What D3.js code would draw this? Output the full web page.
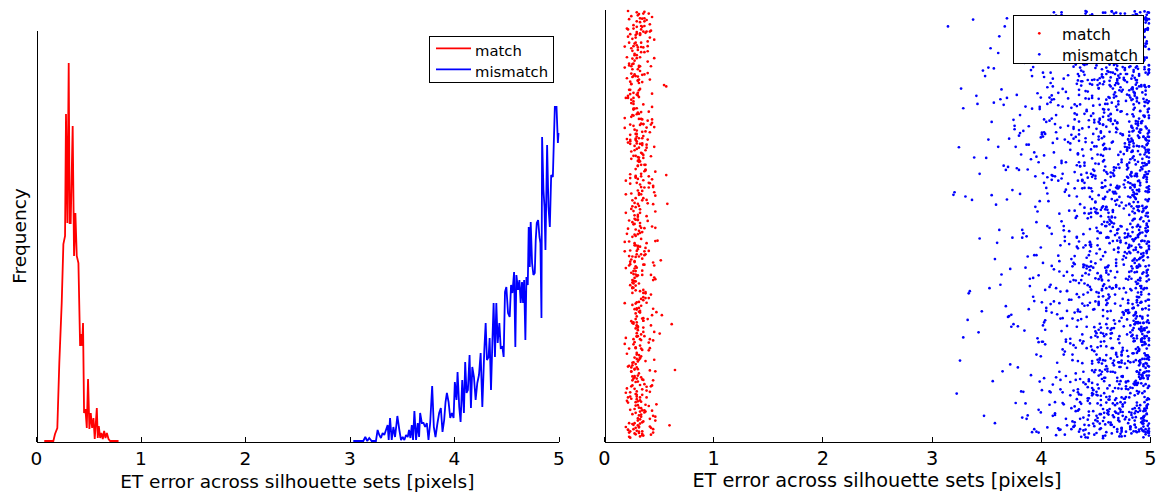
<!DOCTYPE html>
<html><head><meta charset="utf-8">
<script src="https://cdn.jsdelivr.net/npm/d3@7"></script>
<style>
html,body{margin:0;padding:0;background:#fff;}
svg{display:block;}
text{font-family:"DejaVu Sans",sans-serif;fill:#000;}
</style></head><body>
<svg id="chart" width="1162" height="492"></svg>
<script>
// ---- Histogram of ET error (bin centre in pixels, frequency) ----
const matchBins = [0.079,0.166,0.182,0.204,0.223,0.246,0.262,0.278,0.287,0.300,0.313,0.322,0.332,0.351,0.364,0.377,0.390,0.406,0.422,0.431,0.441,0.450,0.460,0.473,0.486,0.498,0.511,0.524,0.537,0.550,0.562,0.582,0.591,0.601,0.614,0.626,0.639,0.652,0.665,0.678,0.694,0.710,0.790];
const matchFreq = [0,0,7,13,78,138,197,205,327,218,378,218,218,315,185,228,185,178,95,107,95,118,28,32,13,62,12,28,13,23,2,33,3,15,3,8,2,10,3,8,2,0,0];

const mismatchBins = [3.036,3.132,3.151,3.170,3.189,3.212,3.253,3.269,3.285,3.301,
3.317,3.333,3.349,3.365,3.375,3.388,3.404,3.420,3.436,3.458,
3.477,3.493,3.509,3.525,3.541,3.557,3.570,3.583,3.596,3.608,
3.621,3.637,3.653,3.666,3.676,3.692,3.708,3.724,3.740,3.756,
3.772,3.791,3.807,3.823,3.842,3.858,3.874,3.890,3.906,3.919,
3.932,3.948,3.964,3.980,3.996,4.008,4.024,4.034,4.050,4.063,
4.079,4.095,4.107,4.120,4.133,4.149,4.162,4.175,4.191,4.207,
4.223,4.239,4.255,4.271,4.290,4.303,4.315,4.331,4.341,4.354,
4.367,4.379,4.392,4.405,4.418,4.434,4.447,4.463,4.475,4.488,
4.501,4.517,4.533,4.546,4.559,4.575,4.587,4.597,4.613,4.626,
4.638,4.651,4.661,4.671,4.683,4.693,4.706,4.715,4.725,4.734,
4.747,4.760,4.773,4.782,4.792,4.805,4.818,4.827,4.837,4.843,
4.856,4.866,4.875,4.891,4.904,4.917,4.930,4.946,4.955,4.965,
4.981,4.994,5.000];
const mismatchFreq = [0,0,4,0,3,0,0,11,6,3,
8,6,11,16,1,23,1,14,4,25,
11,1,4,1,6,4,11,3,16,1,
30,1,18,4,28,18,18,14,18,1,
18,55,14,4,18,28,33,9,21,39,
48,39,23,28,23,59,41,69,34,19,
61,28,79,48,51,86,33,74,64,41,
58,66,88,34,91,118,81,84,103,51,
98,138,84,138,98,118,93,94,84,149,
154,128,124,156,148,169,94,166,151,161,
138,159,138,161,101,164,156,214,174,219,
178,166,168,201,218,221,204,198,123,304,
251,234,191,296,234,214,266,264,298,334,
334,298,308];

// ---- Per-sample ET error (pixels) ----
const matchErr = [
0.29,0.34,0.26,0.31,0.38,0.23,0.33,0.28,0.41,0.30,0.25,0.36,0.32,0.27,0.44,0.30,0.35,0.24,0.29,0.33,
0.31,0.27,0.39,0.22,0.34,0.30,0.48,0.26,0.32,0.37,0.29,0.24,0.33,0.55,0.28,0.35,0.31,0.25,0.40,0.30,
0.26,0.33,0.29,0.36,0.23,0.31,0.42,0.28,0.34,0.30,0.27,0.38,0.62,0.25,0.32,0.29,0.35,0.24,0.31,0.37,
0.30,0.25,0.34,0.28,0.39,0.32,0.27,0.45,0.22,0.33,0.29,0.36,0.31,0.26,0.34,0.28,0.51,0.30,0.35,0.24,
0.33,0.29,0.26,0.37,0.31,0.24,0.35,0.30,0.28,0.43,0.32,0.27,0.36,0.23,0.31,0.34,0.29,0.39,0.26,0.32,
0.28,0.35,0.31,0.25,0.40,0.29,0.33,0.22,0.37,0.30,0.27,0.34,0.47,0.29,0.32,0.26,0.36,0.31,0.24,0.33,
0.35,0.30,0.27,0.32,0.38,0.25,0.29,0.34,0.31,0.58,0.26,0.33,0.30,0.41,0.28,0.35,0.23,0.31,0.29,0.36,
0.27,0.32,0.30,0.36,0.24,0.33,0.29,0.39,0.26,0.31,0.35,0.28,0.42,0.30,0.25,0.34,0.32,0.27,0.37,0.29,
0.31,0.26,0.34,0.29,0.65,0.32,0.28,0.36,0.23,0.33,0.30,0.38,0.27,0.31,0.35,0.25,0.44,0.29,0.32,0.28,
0.34,0.30,0.25,0.37,0.31,0.28,0.33,0.22,0.36,0.29,0.32,0.40,0.26,0.34,0.30,0.53,0.27,0.31,0.35,0.24,
0.29,0.36,0.32,0.27,0.33,0.30,0.25,0.39,0.31,0.28,0.34,0.23,0.37,0.30,0.26,0.32,0.46,0.29,0.33,0.31,
0.26,0.31,0.35,0.28,0.32,0.24,0.38,0.30,0.33,0.27,0.36,0.29,0.31,0.42,0.25,0.34,0.28,0.32,0.57,0.30,
0.33,0.27,0.30,0.36,0.22,0.31,0.29,0.35,0.26,0.40,0.32,0.28,0.34,0.30,0.25,0.37,0.31,0.27,0.33,0.29,
0.30,0.35,0.24,0.32,0.28,0.38,0.31,0.26,0.34,0.29,0.49,0.33,0.27,0.36,0.30,0.23,0.32,0.28,0.41,0.31,
0.27,0.33,0.30,0.25,0.36,0.29,0.32,0.39,0.28,0.34,0.31,0.24,0.35,0.30,0.27,0.33,0.60,0.29,0.26,0.37,
0.32,0.28,0.35,0.30,0.26,0.33,0.43,0.29,0.31,0.24,0.37,0.28,0.34,0.30,0.32,0.25,0.36,0.29,0.33,0.27,
0.29,0.34,0.31,0.23,0.38,0.30,0.27,0.33,0.35,0.28,0.32,0.26,0.40,0.30,0.34,0.29,0.52,0.31,0.25,0.36,
0.31,0.27,0.33,0.29,0.36,0.24,0.32,0.30,0.28,0.35,0.38,0.26,0.31,0.33,0.29,0.45,0.27,0.34,0.30,0.32,
0.25,0.34,0.30,0.37,0.28,0.32,0.29,0.35,0.23,0.31,0.33,0.27,0.39,0.30,0.26,0.36,0.31,0.28,0.34,0.57,
0.30,0.26,0.33,0.29,0.31,0.37,0.24,0.35,0.28,0.32,0.30,0.42,0.27,0.34,0.29,0.31,0.25,0.36,0.33,0.28,
0.32,0.29,0.35,0.27,0.30,0.38,0.33,0.26,0.31,0.48,0.28,0.34,0.30,0.24,0.36,0.31,0.29,0.33,0.27,0.35,
0.21,0.43,0.35,0.19,0.46,0.28,0.39,0.24,0.44,0.32,0.20,0.41,0.37,0.26,0.45,0.30,0.22,0.42,0.34,0.47,
0.40,0.23,0.45,0.33,0.20,0.38,0.27,0.44,0.21,0.36,0.43,0.25,0.47,0.31,0.19,0.42,0.29,0.46,0.24,0.39,
0.26,0.44,0.21,0.41,0.34,0.46,0.20,0.37,0.43,0.23,0.40,0.28,0.45,0.19,0.35,0.42,0.22,0.47,0.31,0.38,
0.43,0.20,0.39,0.25,0.47,0.32,0.22,0.45,0.36,0.19,0.42,0.30,0.44,0.24,0.41,0.27,0.46,0.21,0.37,0.33,
0.22,0.46,0.30,0.42,0.19,0.38,0.44,0.26,0.40,0.21,0.47,0.34,0.23,0.43,0.29,0.45,0.20,0.36,0.41,0.25,
0.44,0.27,0.20,0.45,0.35,0.23,0.41,0.19,0.47,0.31,0.39,0.22,0.43,0.28,0.46,0.21,0.38,0.42,0.24,0.36,
0.19,0.40,0.46,0.29,0.43,0.21,0.37,0.45,0.24,0.42,0.33,0.47,0.20,0.39,0.26,0.44,0.22,0.41,0.30,0.45,
0.42,0.24,0.38,0.47,0.21,0.44,0.28,0.19,0.41,0.35,0.46,0.23,0.40,0.20,0.43,0.32,0.45,0.25,0.37,0.22];

// vertical position of each match sample (0 = bottom, 999 = top)
const matchPos = [
512,87,934,263,718,405,46,851,329,677,158,993,574,221,806,439,12,695,368,947,
134,782,457,21,619,889,296,543,73,964,347,710,188,826,502,9,658,275,917,431,
863,64,392,735,211,580,951,117,467,804,33,629,268,912,486,175,746,359,88,997,
305,671,144,883,520,27,769,412,956,190,614,341,837,58,493,722,246,975,383,109,
648,925,172,438,761,3,557,286,899,123,702,369,41,815,254,588,937,97,472,680,
226,850,519,94,743,316,973,169,625,400,788,52,531,258,868,146,707,443,18,594,
981,197,363,657,80,829,474,231,908,549,125,689,302,764,37,421,876,163,610,348,
755,14,598,282,945,449,105,727,371,836,67,514,233,962,388,640,153,796,492,280,
43,888,311,701,161,570,923,250,461,817,99,674,392,989,208,537,746,26,652,415,
571,240,784,128,863,477,6,939,331,612,185,881,426,72,720,289,958,549,139,805,
358,663,29,917,504,239,792,113,449,674,956,15,587,319,845,196,728,403,97,638,
906,148,483,771,55,609,340,896,218,532,781,384,79,968,167,668,452,17,823,272,
126,731,264,562,999,181,425,690,35,854,306,522,915,141,752,62,607,353,870,489,
690,39,815,363,147,948,523,271,736,11,463,891,233,604,103,980,320,684,439,761,
272,943,111,654,407,86,798,558,190,925,382,68,717,265,847,497,32,630,178,975,
839,398,702,19,557,233,870,133,451,698,982,303,57,772,426,157,914,541,295,661,
61,613,240,925,343,758,501,90,666,376,814,137,550,996,211,698,417,48,853,324,
478,179,859,562,8,734,297,950,413,116,640,875,260,481,712,23,385,903,167,544,
987,327,93,640,457,871,214,579,37,802,345,966,122,695,506,276,808,70,431,616,
201,756,528,293,914,67,440,686,164,992,380,597,23,747,212,846,573,138,733,368,
747,452,18,808,187,627,944,365,511,81,896,244,706,414,951,32,661,299,876,103,
479,26,833,317,682,144,951,408,66,759,236,587,903,352,15,712,491,839,193,624,
905,171,548,36,796,431,269,985,118,656,337,870,52,512,726,212,943,377,99,687,
313,738,89,613,964,250,528,851,10,427,699,162,588,916,281,47,801,373,649,182,
660,399,978,123,568,831,22,304,735,460,110,946,289,618,77,771,405,891,240,536,
85,889,247,716,438,64,606,354,928,199,493,763,5,383,847,137,571,276,993,419,
775,141,603,371,962,510,225,867,43,637,318,97,734,551,185,958,446,29,689,260,
222,509,932,78,265,700,407,591,834,160,982,462,28,680,341,125,796,598,919,54,
937,596,329,158,842,496,13,749,207,393,576,872,280,108,953,647,230,828,429,692];

const mismatchErr = [
4.87,4.52,4.13,4.96,4.61,3.74,4.33,4.78,4.91,4.05,4.66,4.28,4.99,4.57,3.41,4.44,4.83,4.70,4.21,4.94,
4.62,4.95,4.38,4.11,4.81,4.73,3.88,4.49,4.97,4.26,4.55,4.02,4.89,4.68,4.17,4.92,3.63,4.59,4.35,4.76,
4.93,4.47,4.71,3.25,4.84,4.19,4.56,4.98,4.31,4.64,3.95,4.88,4.42,4.75,4.08,4.53,4.90,3.79,4.67,4.23,
4.79,4.36,4.94,4.58,4.03,4.86,4.69,3.57,4.27,4.97,4.51,4.14,4.82,4.63,4.45,3.92,4.74,4.89,4.40,4.60,
4.54,4.91,4.22,4.77,3.83,4.65,4.99,4.10,4.46,4.85,3.48,4.72,4.30,4.59,4.93,4.06,4.68,4.37,4.81,4.50,
4.96,4.43,4.70,4.16,4.88,4.55,3.69,4.34,4.92,4.62,4.00,4.80,4.48,4.74,4.25,4.97,3.98,4.58,4.86,4.66,
4.61,4.83,4.29,4.95,4.09,4.71,4.50,3.61,4.89,4.39,4.76,4.18,4.98,4.56,3.15,4.64,4.84,4.44,4.90,4.04,
4.73,4.40,4.97,4.57,4.12,4.85,4.67,3.86,4.32,4.91,4.53,4.01,4.79,4.47,4.94,4.20,4.63,3.72,4.87,4.69,
4.88,4.51,4.24,4.75,3.96,4.93,4.60,4.35,4.82,3.37,4.68,4.15,4.99,4.46,4.72,4.07,4.86,3.81,4.57,4.95,
4.45,4.90,4.66,4.19,4.81,4.54,3.90,4.98,4.28,4.74,4.03,4.62,4.87,3.66,4.41,4.94,4.59,4.13,4.78,4.84,
4.97,4.58,4.33,4.86,4.11,4.70,4.49,3.53,4.92,4.64,4.23,4.80,3.99,4.55,4.89,4.37,4.96,4.06,4.73,3.29,
4.63,4.85,4.42,4.95,4.17,4.69,4.52,3.77,4.91,4.27,4.76,4.08,4.60,4.99,4.38,4.83,3.94,4.48,4.88,4.71,
4.82,4.47,4.93,4.21,4.67,4.56,3.85,4.98,4.31,4.74,4.02,4.89,4.61,4.14,4.84,3.58,4.44,4.95,4.65,4.53,
4.90,4.36,4.77,4.10,4.59,4.97,4.25,4.68,3.93,4.86,4.50,3.71,4.81,4.43,4.94,4.16,4.72,3.44,4.63,4.87,
4.55,4.92,4.30,4.84,4.05,4.73,4.61,3.89,4.96,4.40,4.79,4.19,4.66,4.88,4.34,4.99,3.97,4.57,4.83,4.70,
4.76,4.49,4.95,4.12,4.85,4.62,3.64,4.39,4.91,4.54,4.00,4.78,4.27,4.97,4.68,4.22,4.86,3.82,4.58,4.93,
4.69,4.88,4.35,4.98,4.18,4.74,4.51,3.75,4.83,4.46,4.94,4.07,4.64,4.90,4.29,3.20,4.80,4.60,4.96,4.41,
4.84,4.57,4.24,4.92,3.95,4.71,4.87,4.32,4.65,4.99,4.13,4.53,3.68,4.79,4.45,4.89,4.03,4.67,4.95,4.38,
4.60,4.93,4.47,4.81,4.09,4.72,4.97,3.87,4.36,4.85,4.55,4.20,4.90,4.63,3.55,4.76,4.42,4.98,4.16,4.70,
4.89,4.44,4.75,4.15,4.96,4.58,3.92,4.83,4.31,4.66,4.99,4.04,4.52,4.87,4.26,3.39,4.73,4.94,4.61,4.48,
4.71,4.97,4.39,4.86,4.21,4.64,4.53,3.80,4.92,4.34,4.78,4.10,4.88,4.57,4.98,3.96,4.45,4.82,4.67,4.25,
4.95,4.50,4.82,4.06,4.69,4.90,4.37,3.62,4.77,4.59,4.99,4.18,4.85,4.43,4.64,3.91,4.93,4.28,4.74,4.56,
4.80,4.63,4.27,4.97,4.14,4.71,4.88,3.73,4.46,4.94,4.55,4.01,4.83,4.66,3.47,4.90,4.33,4.77,4.98,4.60,
4.58,4.91,4.42,4.86,3.98,4.75,4.96,4.23,4.62,4.84,4.11,4.52,3.84,4.89,4.36,4.99,4.68,4.17,4.79,4.93,
4.74,4.47,4.95,4.19,4.87,4.56,3.67,4.81,4.30,4.92,4.65,4.08,4.98,4.41,4.72,3.94,4.85,4.61,4.26,4.90,
4.97,4.54,4.33,4.83,4.02,4.68,4.91,3.78,4.49,4.86,4.59,4.15,4.94,4.76,3.31,4.62,4.40,4.88,4.99,4.22,
4.65,4.89,4.44,4.96,4.12,4.73,4.57,3.88,4.82,4.35,4.93,4.05,4.70,4.98,4.28,4.84,3.59,4.51,4.90,4.67,
4.85,4.60,4.24,4.94,3.99,4.78,4.87,4.38,4.53,4.97,4.16,4.69,3.70,4.83,4.46,4.91,4.09,4.64,4.99,4.32,
4.52,4.92,4.48,4.80,4.03,4.66,4.96,3.83,4.39,4.88,4.57,4.20,4.93,4.74,3.52,4.61,4.43,4.98,4.14,4.86,
4.90,4.37,4.72,4.10,4.95,4.55,3.93,4.84,4.29,4.63,4.99,4.01,4.50,4.89,4.23,3.23,4.77,4.94,4.68,4.45,
4.77,4.96,4.41,4.85,4.17,4.62,4.54,3.76,4.91,4.33,4.79,4.07,4.87,4.58,4.98,3.97,4.46,4.82,4.70,4.26,
4.93,4.51,4.84,4.04,4.67,4.90,4.36,3.65,4.75,4.60,4.97,4.19,4.86,4.42,4.64,3.90,4.95,4.30,4.73,4.57,
4.81,4.64,4.25,4.98,4.13,4.70,4.89,3.72,4.47,4.92,4.56,4.00,4.83,4.68,3.43,4.91,4.34,4.76,4.97,4.59,
4.61,4.94,4.40,4.87,3.95,4.74,4.99,4.22,4.63,4.85,4.12,4.53,3.86,4.90,4.35,4.96,4.69,4.18,4.80,4.92,
4.73,4.48,4.96,4.20,4.88,4.55,3.69,4.82,4.31,4.93,4.66,4.06,4.97,4.44,4.71,3.98,4.86,4.60,4.27,4.89,
4.98,4.53,4.32,4.84,4.03,4.67,4.90,3.79,4.50,4.87,4.58,4.14,4.95,4.75,3.34,4.63,4.41,4.88,4.99,4.21,
4.66,4.88,4.45,4.95,4.11,4.72,4.56,3.89,4.83,4.36,4.92,4.04,4.69,4.97,4.29,4.85,3.56,4.52,4.91,4.65,
4.86,4.61,4.23,4.93,3.96,4.79,4.88,4.37,4.54,4.98,4.15,4.70,3.74,4.84,4.47,4.90,4.08,4.62,4.96,4.33,
4.53,4.91,4.49,4.81,4.02,4.67,4.97,3.84,4.38,4.89,4.56,4.19,4.94,4.73,3.50,4.60,4.44,4.99,4.13,4.85,
4.91,4.38,4.71,4.09,4.96,4.54,3.91,4.85,4.28,4.64,4.98,4.02,4.51,4.88,4.24,3.27,4.76,4.93,4.67,4.46,
4.36,4.79,3.58,4.92,4.61,4.98,4.14,4.70,4.85,4.25,4.55,4.90,4.07,4.44,4.83,4.66,3.81,4.97,4.52,4.31,
3.44,4.88,4.57,4.20,4.95,4.73,4.40,4.62,4.99,4.11,4.84,4.50,3.95,4.77,4.29,4.91,4.68,4.03,3.70,4.86,
4.94,4.16,4.63,4.81,4.47,3.87,4.97,4.58,4.32,4.89,4.72,4.05,4.54,4.93,4.22,4.80,4.65,3.99,4.87,4.42,
4.71,4.90,4.35,3.62,4.83,4.56,4.96,4.10,4.67,4.48,4.99,4.27,4.78,4.01,4.86,4.59,3.33,4.92,4.43,4.64,
4.58,3.92,4.85,4.69,4.24,4.97,4.51,4.80,4.13,4.91,4.37,4.75,3.78,4.62,4.98,4.45,4.06,4.88,4.55,4.94,
4.87,4.41,4.74,4.99,4.19,4.60,4.93,3.54,4.30,4.82,4.66,4.08,4.95,4.52,4.89,4.23,3.97,4.71,4.84,4.57,
4.64,4.96,4.28,4.87,4.53,4.02,4.78,4.92,4.46,3.66,4.70,4.98,4.15,4.59,4.84,4.34,4.90,3.88,4.61,4.76,
4.93,4.50,4.17,4.81,4.67,4.97,4.39,3.21,4.86,4.56,4.09,4.74,4.91,4.26,4.63,4.99,3.83,4.48,4.82,4.69,
4.77,4.33,4.95,4.60,3.94,4.88,4.47,4.72,4.12,4.98,4.55,4.85,4.21,3.61,4.69,4.92,4.42,4.04,4.80,4.57,
4.52,4.89,4.67,4.25,4.96,3.76,4.61,4.84,4.36,4.99,4.11,4.73,4.58,4.93,3.98,4.45,4.86,4.18,3.49,4.79,
4.85,4.62,4.03,4.94,4.48,4.78,4.31,4.91,3.85,4.57,4.97,4.20,4.70,4.88,4.43,4.65,3.68,4.99,4.14,4.54,
4.69,4.98,4.40,4.82,4.10,4.59,4.87,4.27,4.75,3.91,4.95,4.51,4.64,4.06,4.90,3.38,4.83,4.34,4.72,4.96,
4.91,4.46,4.79,3.57,4.63,4.97,4.22,4.86,4.55,4.00,4.73,4.93,4.38,4.68,3.96,4.84,4.60,4.99,4.16,4.50,
4.57,4.84,4.29,4.95,4.70,4.13,4.89,3.73,4.49,4.98,4.62,4.35,4.81,4.07,4.92,4.53,4.76,3.89,4.44,4.87,
4.95,4.60,3.81,4.74,4.23,4.88,4.54,4.99,4.09,4.67,4.85,4.41,3.26,4.93,4.57,4.18,4.80,4.65,4.97,4.32,
4.73,4.44,4.90,4.15,4.82,4.96,4.58,3.93,4.36,4.69,4.98,4.05,4.87,4.52,3.64,4.77,4.28,4.91,4.61,4.84,
4.48,4.92,4.66,4.01,4.79,4.55,4.97,4.30,3.86,4.88,4.63,4.19,4.94,4.72,4.39,4.99,4.10,4.56,3.52,4.83,
4.86,4.34,4.71,4.98,4.56,4.21,4.90,3.77,4.64,4.83,4.47,4.96,4.08,4.75,4.60,3.99,4.88,4.43,4.93,4.68,
4.62,4.95,4.25,4.80,3.90,4.69,4.99,4.51,4.12,4.87,4.38,4.74,4.92,4.58,3.46,4.82,4.03,4.66,4.97,4.45,
4.89,4.53,4.78,4.17,4.94,4.61,3.69,4.85,4.32,4.98,4.70,4.06,4.57,4.90,4.26,4.81,3.94,4.49,4.67,4.96,
4.75,4.42,4.97,4.63,4.11,4.88,4.54,3.80,4.92,4.29,4.72,4.99,4.02,4.60,4.84,4.47,3.63,4.79,4.93,4.37,
4.97,4.58,4.20,4.86,4.68,3.97,4.91,4.45,4.77,4.14,4.95,4.53,4.33,3.29,4.82,4.64,4.99,4.07,4.71,4.89,
4.55,4.83,4.39,4.96,3.84,4.70,4.61,4.92,4.24,4.87,4.50,4.98,4.04,4.66,3.71,4.80,4.43,4.94,4.18,4.74,
4.82,4.47,4.99,4.27,4.63,4.90,3.91,4.56,4.85,4.12,4.76,4.95,4.35,4.69,3.55,4.88,4.59,4.00,4.97,4.52,
4.68,4.94,4.31,4.78,4.09,4.87,4.60,4.98,3.75,4.45,4.92,4.57,4.22,4.83,4.73,3.96,4.99,4.40,4.65,4.90,
4.91,4.36,4.84,4.62,4.97,4.15,4.53,3.42,4.89,4.74,4.28,4.95,4.05,4.67,4.81,4.49,3.87,4.93,4.58,4.78,
4.59,4.88,4.72,4.19,4.96,4.44,3.98,4.80,4.63,4.99,4.34,4.86,3.60,4.55,4.91,4.10,4.70,4.97,4.26,4.84,
4.94,4.51,4.30,4.87,4.67,4.01,4.79,4.98,3.82,4.41,4.92,4.60,4.16,4.85,4.73,3.35,4.96,4.48,4.89,4.64,
4.83,4.41,4.97,4.66,4.52,4.91,4.35,4.78,4.99,4.60,4.88,4.47,4.72,4.94,4.31,4.85,4.57,4.96,4.69,4.80,
4.62,4.93,4.38,4.81,4.98,4.54,4.74,4.89,4.44,4.67,4.95,4.33,4.86,4.59,4.77,4.99,4.49,4.71,4.90,4.82,
4.97,4.56,4.84,4.42,4.73,4.92,4.64,4.36,4.88,4.79,4.51,4.96,4.68,4.30,4.83,4.94,4.58,4.75,4.46,4.99,
4.70,4.87,4.39,4.95,4.61,4.80,4.48,4.91,4.76,4.55,4.98,4.34,4.85,4.65,4.93,4.43,4.72,4.89,4.53,4.97,
4.84,4.45,4.92,4.68,4.99,4.57,4.78,4.32,4.88,4.63,4.95,4.50,4.74,4.86,4.40,4.96,4.66,4.81,4.59,4.90,
4.52,4.98,4.73,4.37,4.89,4.64,4.94,4.82,4.46,4.70,4.99,4.56,4.85,4.31,4.77,4.92,4.61,4.97,4.43,4.87,
4.93,4.60,4.41,4.86,4.75,4.97,4.53,4.88,4.35,4.69,4.95,4.80,4.48,4.91,4.65,4.99,4.38,4.83,4.72,4.58,
4.79,4.96,4.47,4.90,4.62,4.84,4.33,4.98,4.71,4.55,4.87,4.94,4.42,4.67,4.81,4.99,4.51,4.76,4.89,4.36,
4.66,4.85,4.99,4.44,4.73,4.92,4.58,4.81,4.30,4.96,4.64,4.88,4.49,4.77,4.95,4.39,4.70,4.86,4.54,4.98,
4.91,4.50,4.78,4.97,4.36,4.83,4.63,4.94,4.45,4.87,4.71,4.99,4.57,4.34,4.82,4.68,4.93,4.41,4.89,4.75,
4.57,4.95,4.84,4.40,4.69,4.99,4.76,4.32,4.90,4.61,4.86,4.48,4.97,4.73,4.53,4.88,4.37,4.81,4.94,4.65,
4.86,4.43,4.98,4.72,4.55,4.91,4.35,4.80,4.67,4.96,4.50,4.85,4.77,4.99,4.39,4.62,4.89,4.46,4.74,4.93,
4.74,4.99,4.52,4.87,4.31,4.82,4.95,4.64,4.45,4.90,4.70,4.97,4.58,4.84,4.38,4.93,4.79,4.49,4.88,4.60,
4.95,4.38,4.80,4.63,4.98,4.47,4.86,4.73,4.91,4.54,4.34,4.89,4.68,4.99,4.42,4.77,4.94,4.59,4.83,4.51,
4.61,4.88,4.44,4.96,4.75,4.33,4.92,4.69,4.84,4.56,4.99,4.40,4.81,4.66,4.97,4.48,4.87,4.72,4.36,4.90,
4.89,4.53,4.97,4.78,4.41,4.85,4.62,4.94,4.30,4.71,4.99,4.57,4.83,4.46,4.91,4.67,4.80,4.96,4.39,4.75,
4.48,4.92,4.70,4.86,4.58,4.99,4.37,4.81,4.95,4.64,4.43,4.88,4.76,4.97,4.52,4.84,4.33,4.69,4.93,4.82,
4.98,4.65,4.42,4.90,4.79,4.55,4.95,4.35,4.87,4.72,4.99,4.60,4.84,4.47,4.92,4.68,4.31,4.86,4.77,4.96,
4.73,4.40,4.88,4.99,4.63,4.83,4.50,4.94,4.76,4.37,4.90,4.66,4.97,4.54,4.81,4.44,4.89,4.70,4.98,4.59,
4.85,4.97,4.56,4.34,4.80,4.93,4.68,4.45,4.99,4.74,4.87,4.51,4.62,4.95,4.39,4.83,4.78,4.91,4.48,4.70,
4.42,4.87,4.69,4.96,4.53,4.82,4.99,4.36,4.75,4.91,4.60,4.85,4.47,4.94,4.71,4.32,4.88,4.64,4.97,4.79,
4.93,4.59,4.81,4.46,4.98,4.72,4.38,4.89,4.65,4.95,4.52,4.84,4.99,4.41,4.77,4.90,4.57,4.86,4.33,4.68,
4.67,4.96,4.35,4.84,4.74,4.92,4.49,4.99,4.61,4.80,4.43,4.88,4.70,4.97,4.55,4.85,4.39,4.94,4.78,4.62,
4.88,4.45,4.98,4.71,4.57,4.90,4.83,4.34,4.95,4.66,4.79,4.50,4.99,4.87,4.63,4.40,4.93,4.76,4.54,4.86,
4.55,4.91,4.78,4.99,4.44,4.69,4.86,4.96,4.37,4.82,4.60,4.94,4.73,4.48,4.89,4.97,4.65,4.31,4.84,4.92,
4.80,4.64,4.95,4.39,4.87,4.53,4.99,4.76,4.46,4.92,4.70,4.85,4.58,4.97,4.42,4.89,4.67,4.94,4.35,4.78,
4.97,4.49,4.72,4.90,4.61,4.84,4.36,4.98,4.75,4.56,4.93,4.81,4.44,4.88,4.68,4.99,4.52,4.86,4.63,4.95,
4.70,4.89,4.41,4.96,4.83,4.59,4.99,4.47,4.92,4.77,4.32,4.87,4.66,4.94,4.54,4.80,4.98,4.38,4.73,4.91,
4.86,4.58,4.93,4.43,4.79,4.99,4.64,4.89,4.51,4.96,4.35,4.82,4.71,4.97,4.47,4.90,4.60,4.85,4.99,4.40,
4.62,4.95,4.76,4.50,4.98,4.84,4.37,4.91,4.69,4.87,4.55,4.99,4.44,4.81,4.93,4.74,4.33,4.96,4.65,4.88];

// vertical position of each mismatch sample (0 = bottom, 999 = top)
const mismatchPos = [
736,214,958,403,67,581,829,342,176,917,495,23,668,287,801,139,543,972,381,610,
92,754,316,885,448,12,629,205,977,533,151,706,864,269,415,48,793,590,331,944,
463,827,118,681,254,996,370,557,39,742,893,201,621,76,355,918,488,167,804,582,
279,947,508,143,716,389,61,865,234,600,433,988,120,677,318,847,25,541,759,196,
830,357,699,7,470,906,185,616,754,288,54,935,411,565,219,782,337,103,880,643,
521,95,861,428,241,663,982,302,130,518,797,372,939,17,693,456,226,834,572,157,
948,623,184,787,315,44,530,901,672,228,407,116,851,587,963,299,70,728,454,348,
168,406,725,543,890,259,634,83,974,375,706,227,489,801,36,619,925,174,561,776,
613,872,32,327,659,482,170,815,249,558,91,921,696,348,128,887,411,756,2,953,
394,206,962,649,97,780,933,461,710,26,845,528,271,638,999,154,497,60,299,718,
75,769,449,268,823,585,10,352,142,891,646,193,770,419,534,82,916,611,852,237,
901,538,285,938,157,716,387,682,495,223,977,80,313,861,244,701,322,944,157,436,
350,119,630,81,573,846,253,996,31,765,411,602,158,953,671,37,526,200,692,818,
683,982,176,748,400,211,911,577,332,126,866,287,741,45,389,603,843,468,70,992,
217,447,869,510,938,63,298,730,855,645,206,508,965,619,109,823,235,733,374,558,
964,303,54,396,690,337,816,157,422,943,62,789,367,195,900,462,998,111,914,281,
547,838,711,171,22,900,493,268,728,585,434,941,33,717,281,570,135,352,639,4,
119,661,390,979,613,447,136,874,13,302,735,148,628,852,490,214,746,897,258,835,
792,20,578,295,855,240,659,47,959,683,377,817,543,92,740,966,398,578,25,463,
436,924,207,701,128,560,771,392,533,177,980,277,185,447,325,657,86,271,957,712,
59,527,857,43,487,982,320,708,230,852,117,605,896,734,19,506,829,617,183,596,
885,241,653,821,359,155,617,940,480,34,645,452,276,982,593,149,303,964,496,350,
324,796,102,434,756,641,85,290,676,794,260,920,61,352,860,704,472,46,769,867,
762,376,938,593,15,815,486,147,974,398,841,49,719,498,230,8,930,391,641,107,
195,692,462,252,899,372,963,802,113,517,351,743,424,128,973,669,180,782,325,949,
606,58,777,951,227,517,184,632,839,60,604,985,170,843,566,370,638,235,873,472,
998,471,135,675,793,68,752,426,29,721,187,299,871,587,72,816,547,110,420,28,
418,852,345,18,555,912,273,906,569,260,932,419,635,13,449,255,987,856,590,705,
127,258,629,881,142,735,492,50,337,797,42,776,227,964,699,939,121,325,9,268,
852,935,71,404,680,227,868,593,197,958,451,114,552,342,810,106,690,533,743,898,
470,578,993,753,317,405,36,731,481,93,676,880,367,706,195,531,414,797,192,568,
36,197,466,221,976,603,637,158,868,388,240,608,33,900,508,357,863,29,946,333,
693,747,849,576,86,832,273,397,655,737,540,193,981,476,249,715,66,594,439,8,
281,4,311,923,542,117,910,979,99,306,885,332,776,151,646,923,201,281,700,722,
954,616,702,109,832,379,559,473,746,544,83,497,641,429,848,68,588,908,133,474,
140,313,153,483,272,949,72,263,410,827,627,909,226,54,340,581,977,362,855,197,
577,893,898,664,691,224,851,687,961,23,357,712,800,587,962,441,135,664,513,914,
808,471,227,38,429,612,496,825,188,690,178,23,470,315,102,784,493,798,16,338,
316,140,539,814,970,51,352,110,604,476,918,644,142,907,656,244,903,219,613,781,
722,983,781,360,166,748,962,568,325,255,395,265,683,78,264,818,352,49,890,537,
47,638,420,942,577,288,144,936,769,795,718,848,555,402,902,530,714,923,468,76,
619,286,70,209,824,906,598,39,509,127,50,321,904,861,41,370,64,598,285,951,
882,808,911,708,107,473,388,689,213,946,544,586,160,235,577,699,967,134,742,404,
233,532,364,488,670,157,821,479,873,400,271,952,374,715,843,162,278,826,89,622,
507,16,660,831,346,687,14,317,56,627,860,419,803,981,277,934,573,400,932,174,
930,452,183,93,990,541,742,912,724,179,462,111,644,102,500,47,807,663,531,828,
392,786,961,641,255,855,423,227,454,780,17,675,291,536,758,603,145,55,317,294,
149,161,526,379,797,91,954,576,939,501,831,203,980,455,125,863,488,944,694,995,
682,566,777,16,429,332,160,41,321,31,381,553,497,682,960,337,768,255,116,427,
826,893,259,932,669,723,619,821,636,720,614,764,50,245,646,83,958,727,847,758,
18,328,662,538,114,948,295,423,878,301,928,84,737,870,359,519,310,169,352,185,
573,713,33,265,802,436,838,675,81,861,235,343,157,27,748,979,621,837,565,540,
766,237,885,785,501,187,10,972,520,447,670,909,602,377,197,243,98,460,779,891,
246,958,403,98,892,634,708,262,739,143,470,17,453,915,823,699,888,303,32,65,
951,470,572,652,232,795,443,577,109,615,857,702,183,809,561,138,446,998,611,370,
463,55,209,928,597,23,927,376,935,355,81,306,946,41,384,837,773,66,259,726,
105,740,818,319,963,481,148,701,400,788,512,930,271,589,20,443,295,598,867,935,
651,298,49,706,176,841,578,84,246,975,208,539,797,147,925,775,614,889,425,119,
885,998,731,475,374,633,338,887,669,51,725,146,432,676,298,107,950,212,78,565,
331,179,457,21,755,118,796,235,516,619,390,899,7,954,485,680,23,745,993,804,
711,875,990,836,54,403,973,628,24,382,954,250,620,324,848,560,360,471,146,280,
176,361,282,564,916,887,161,453,862,716,43,794,520,772,29,235,823,967,585,647,
535,613,132,222,480,723,60,917,299,184,608,495,888,111,701,906,515,52,344,21,
27,991,771,690,332,210,653,347,592,996,839,352,69,411,569,390,183,704,890,838,
912,428,585,17,786,560,497,15,745,460,150,686,204,966,135,17,872,586,517,478,
448,86,949,384,641,944,819,782,106,811,420,981,740,503,868,626,687,285,240,98,
782,725,351,887,195,64,382,182,938,560,277,133,458,248,664,792,83,981,919,656,
257,536,28,129,901,711,244,528,664,22,882,623,975,810,459,345,559,115,63,929,
347,812,59,694,238,975,461,123,788,542,16,903,275,637,408,861,184,729,95,566,
921,303,676,45,519,842,197,953,384,614,71,757,290,995,436,148,683,829,22,502,
158,587,944,262,713,39,485,867,324,629,103,978,556,219,791,417,61,908,349,675,
739,27,401,826,164,599,962,287,538,91,763,445,884,212,654,3,932,371,118,483,
569,916,233,79,705,357,852,138,991,457,616,44,283,801,527,177,929,390,679,18,
83,671,497,940,312,758,29,564,216,837,405,985,129,623,866,251,535,72,811,442,
897,216,795,421,63,957,642,319,104,726,890,479,36,592,247,970,381,817,168,651,
433,972,131,582,857,200,470,784,948,58,352,705,997,277,549,14,724,427,913,297,
620,306,749,13,898,462,107,687,371,813,188,543,261,935,86,661,840,229,481,959,
271,554,918,380,140,731,987,50,438,619,904,325,770,116,587,809,41,693,363,145,
995,69,416,850,587,230,665,925,172,506,33,778,438,889,341,126,969,523,706,258,
514,838,188,633,25,404,803,295,967,699,251,576,94,855,478,745,205,619,6,883,
178,449,967,293,760,882,111,612,355,823,480,42,958,697,223,386,833,156,572,729,
868,605,37,717,486,176,527,993,79,269,664,917,316,158,765,604,65,936,403,247,
402,128,744,984,213,639,343,864,581,140,995,363,717,534,58,895,281,470,781,110,
741,929,273,51,953,462,769,19,728,445,235,648,841,403,982,172,610,322,50,918,
65,352,591,806,135,311,907,548,254,844,610,112,290,791,527,673,952,197,879,434,
555,785,915,407,681,79,240,696,469,6,755,393,988,182,319,852,427,773,587,11,
311,10,158,625,874,942,375,124,883,371,182,909,542,23,645,95,736,488,955,636,
988,499,702,182,294,530,826,459,36,646,946,527,64,752,875,240,134,996,302,768,
212,867,404,956,740,23,583,917,296,765,85,228,838,349,490,976,581,38,697,166,
683,143,63,528,382,814,177,732,560,187,452,793,657,911,85,331,844,614,262,954,
442,623,847,305,97,634,978,18,401,921,312,684,143,503,715,200,407,891,132,57,
818,988,249,788,587,257,451,667,156,55,804,964,372,18,826,540,955,263,736,466,
101,318,545,124,974,876,102,305,835,586,677,44,904,760,270,686,33,781,494,987,
633,759,917,447,210,373,716,936,518,262,135,513,228,618,423,131,627,154,947,300,
368,30,179,703,859,695,548,119,709,863,955,437,586,983,155,862,485,924,355,613,
905,553,387,956,56,959,191,796,320,993,65,296,855,51,745,301,95,585,821,179,
72,887,644,342,673,123,823,401,54,474,741,870,179,393,612,950,268,720,24,873,
754,221,94,614,486,818,5,598,951,131,380,648,794,931,253,552,893,66,505,417];

const xTicks = [0, 1, 2, 3, 4, 5];
const seriesNames = ["match", "mismatch"];
const seriesColors = ["#ff0000", "#0000ff"];
const xLabel = "ET error across silhouette sets [pixels]";
const yLabel = "Frequency";

const svg = d3.select("#chart");

function drawAxes(g, x, y, fontTick, fontLabel, labelY) {
  const ax = g.append("g")
    .attr("transform", `translate(0,${y.range()[0] + 0.5})`)
    .call(d3.axisBottom(x).tickValues(xTicks).tickFormat(d3.format("d"))
      .tickSize(-5).tickSizeOuter(0).tickPadding(10));
  ax.select(".domain").attr("stroke", "#000").attr("shape-rendering", "crispEdges");
  ax.selectAll(".tick line").attr("stroke", "#000").attr("shape-rendering", "crispEdges");
  ax.selectAll(".tick text").attr("font-family", "DejaVu Sans").attr("font-size", fontTick).attr("fill", "#000");
  const ay = g.append("g")
    .attr("transform", `translate(${x.range()[0] + 0.5},0)`)
    .call(d3.axisLeft(y).tickValues([]).tickSizeOuter(0));
  ay.select(".domain").attr("stroke", "#000").attr("shape-rendering", "crispEdges");
  g.append("text")
    .attr("x", (x.range()[0] + x.range()[1]) / 2)
    .attr("y", labelY)
    .attr("text-anchor", "middle")
    .attr("font-size", fontLabel)
    .text(xLabel);
}

// ---------- Left panel: frequency curves ----------
const xL = d3.scaleLinear().domain([0, 5]).range([36, 558.5]);
const yL = d3.scaleLinear().domain([0, 411]).range([441, 30]);
const gL = svg.append("g");

const line = d3.line().x(d => xL(d[0])).y(d => yL(d[1]));
const histSeries = [d3.zip(matchBins, matchFreq), d3.zip(mismatchBins, mismatchFreq)];
gL.selectAll("path.hist").data(histSeries).join("path")
  .attr("class", "hist")
  .attr("d", line)
  .attr("fill", "none")
  .attr("stroke", (d, i) => seriesColors[i])
  .attr("stroke-width", 1.8)
  .attr("stroke-linejoin", "miter")
  .attr("stroke-miterlimit", 2);

drawAxes(gL, xL, yL, 18.5, 18.5, 487.5);

gL.append("text")
  .attr("transform", "translate(26,236) rotate(-90)")
  .attr("text-anchor", "middle")
  .attr("font-size", 18.5)
  .text(yLabel);

// legend (line samples)
const legL = gL.append("g");
legL.append("rect").attr("x", 429.5).attr("y", 36.5).attr("width", 124).attr("height", 46)
  .attr("fill", "#fff").attr("stroke", "#000").attr("stroke-width", 1);
seriesNames.forEach((name, i) => {
  const cy = 48.3 + i * 21;
  legL.append("line").attr("x1", 436).attr("x2", 471).attr("y1", cy).attr("y2", cy)
    .attr("stroke", seriesColors[i]).attr("stroke-width", 1.8);
  legL.append("text").attr("x", 475).attr("y", cy + 7.5).attr("font-size", 14.8).text(name);
});

// ---------- Right panel: per-sample scatter ----------
const xR = d3.scaleLinear().domain([0, 5]).range([604, 1150]);
const yR = d3.scaleLinear().domain([0, 999]).range([439, 11]);
const gR = svg.append("g");

const matchPts = d3.zip(matchErr, matchPos);
const mismatchPts = d3.zip(mismatchErr, mismatchPos);

gR.append("g").selectAll("circle").data(mismatchPts).join("circle")
  .attr("cx", d => xR(d[0])).attr("cy", d => yR(d[1])).attr("r", 1.35)
  .attr("fill", seriesColors[1]);
gR.append("g").selectAll("circle").data(matchPts).join("circle")
  .attr("cx", d => xR(d[0])).attr("cy", d => yR(d[1])).attr("r", 1.35)
  .attr("fill", seriesColors[0]);

const yRaxis = d3.scaleLinear().domain([0, 1]).range([441, 9]);
drawAxes(gR, xR, yRaxis, 19.3, 19.3, 487);

// legend (marker samples)
const legR = gR.append("g");
legR.append("rect").attr("x", 1013.5).attr("y", 15.5).attr("width", 130).attr("height", 48)
  .attr("fill", "#fff").attr("stroke", "#000").attr("stroke-width", 1);
seriesNames.forEach((name, i) => {
  const cy = 33.3 + i * 21;
  legR.append("circle").attr("cx", 1039.3).attr("cy", cy).attr("r", 1.35).attr("fill", seriesColors[i]);
  legR.append("text").attr("x", 1062).attr("y", cy + 7).attr("font-size", 15.4).text(name);
});
</script>
</body></html>
